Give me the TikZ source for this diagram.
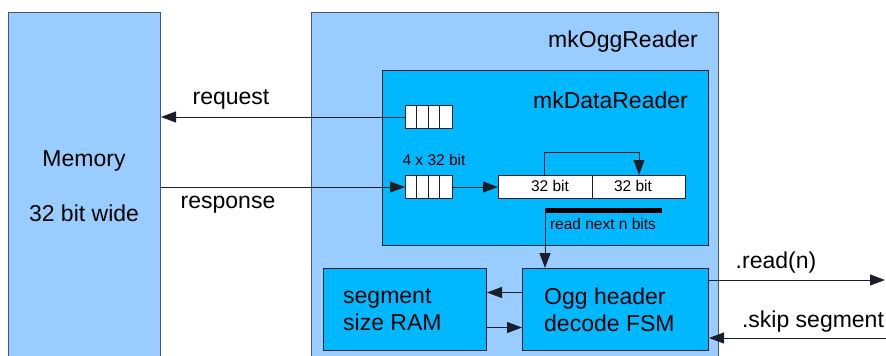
\documentclass[tikz,border=0pt]{standalone}
\usepackage{fontspec}
\setmainfont{Liberation Sans}
\usetikzlibrary{arrows.meta}
\definecolor{outerblue}{HTML}{99CCFF}
\definecolor{innerblue}{HTML}{00B8FF}
\definecolor{edgegray}{HTML}{4A5566}
\definecolor{edgedark}{HTML}{1A1E28}
\tikzset{
  bigtext/.style={font=\fontsize{23}{27}\selectfont, inner sep=0pt},
  smalltext/.style={font=\fontsize{15.5}{18}\selectfont, inner sep=0pt},
  outerbox/.style={draw=edgegray, fill=outerblue, line width=1pt, anchor=north west, inner sep=0pt},
  innerbox/.style={draw=edgedark, fill=innerblue, line width=1pt, anchor=north west, inner sep=0pt},
  cellbox/.style={draw=edgedark, fill=white, line width=1pt, anchor=north west, inner sep=0pt, minimum height=23pt},
  arr/.style={draw=edgedark, line width=1pt, -{Triangle[length=15pt,width=11pt]}},
  wire/.style={draw=edgedark, line width=1pt},
}
\begin{document}
\begin{tikzpicture}[x=1pt,y=-1pt]
\useasboundingbox (0,0) rectangle (886,356);
\clip (0,0) rectangle (886,356);
\fill[white] (0,0) rectangle (886,356);

% memory block
\node[outerbox, minimum width=152pt, minimum height=360pt] (mem) at (8,12) {};
\node[bigtext] (memA) at (84,161) {Memory};
\node[bigtext] (memB) at (84,213) {32 bit wide};

% mkOggReader
\node[outerbox, minimum width=407pt, minimum height=360pt] (ogg) at (311,12) {};
\node[bigtext, anchor=east] (oggname) at (698,42) {mkOggReader};

% mkDataReader
\node[innerbox, minimum width=326pt, minimum height=175pt] (data) at (382,70) {};
\node[bigtext, anchor=east] (dataname) at (688,100) {mkDataReader};

% request FIFO
\node[cellbox, minimum width=46.5pt] (fifoA) at (405,105) {};
\foreach \k in {1,2,3}
  \draw[wire] ([xshift=\k*11.6pt]fifoA.north west) -- ([xshift=\k*11.6pt]fifoA.south west);

% response FIFO
\node[cellbox, minimum width=46.5pt] (fifoB) at (405,175) {};
\foreach \k in {1,2,3}
  \draw[wire] ([xshift=\k*11.6pt]fifoB.north west) -- ([xshift=\k*11.6pt]fifoB.south west);
\node[smalltext] (fifolbl) at (434,160) {4 x 32 bit};

% 64 bit register
\node[cellbox, minimum width=94pt] (regA) at (498,175) {};
\node[cellbox, minimum width=93pt] (regB) at (592,175) {};
\node[smalltext] (regAtxt) at (550,186) {32 bit};
\node[smalltext] (regBtxt) at (633,186) {32 bit};

% read pointer bar
\node[fill=black, minimum width=117pt, minimum height=5pt, inner sep=0pt, anchor=north west] (bar) at (545,208) {};
\node[smalltext] (barlbl) at (603,224) {read next n bits};

% lower blocks
\node[innerbox, minimum width=163pt, minimum height=82pt] (ram) at (323,268) {};
\node[bigtext, align=left, anchor=west] (ramtxt) at (343,310) {segment\\size RAM};
\node[innerbox, minimum width=186pt, minimum height=82pt] (fsm) at (522,268) {};
\node[bigtext, align=left, anchor=west] (fsmtxt) at (544,310) {Ogg header\\decode FSM};

% memory interface
\draw[arr] (fifoA.west) -- (mem.east |- fifoA.west);
\node[bigtext] (reqlbl) at (231,99) {request};
\draw[arr] (mem.east |- fifoB.west) -- (fifoB.west);
\node[bigtext] (resplbl) at (228,205) {response};

% data path inside the reader
\draw[arr] (fifoB.east) -- (regA.west);
\draw[arr] ([xshift=-1pt]regA.north) -- ++(0,-23) -| (regB.north);
\draw[arr] (bar.north west) -- (bar.north west |- fsm.north);

% FSM and RAM
\draw[arr] ([yshift=17pt]fsm.west) -- ([yshift=17pt]ram.east);
\draw[arr] ([yshift=-18pt]ram.east) -- ([yshift=-18pt]fsm.west);

% external methods
\coordinate (readend) at (885,280);
\coordinate (skipstart) at (886,338);
\draw[arr] (fsm.east |- readend) -- (readend);
\node[bigtext] (readlbl) at (776,263) {.read(n)};
\draw[arr] (skipstart) -- (fsm.east |- skipstart);
\node[bigtext] (skiplbl) at (813,322) {.skip segment};
\end{tikzpicture}
\end{document}
